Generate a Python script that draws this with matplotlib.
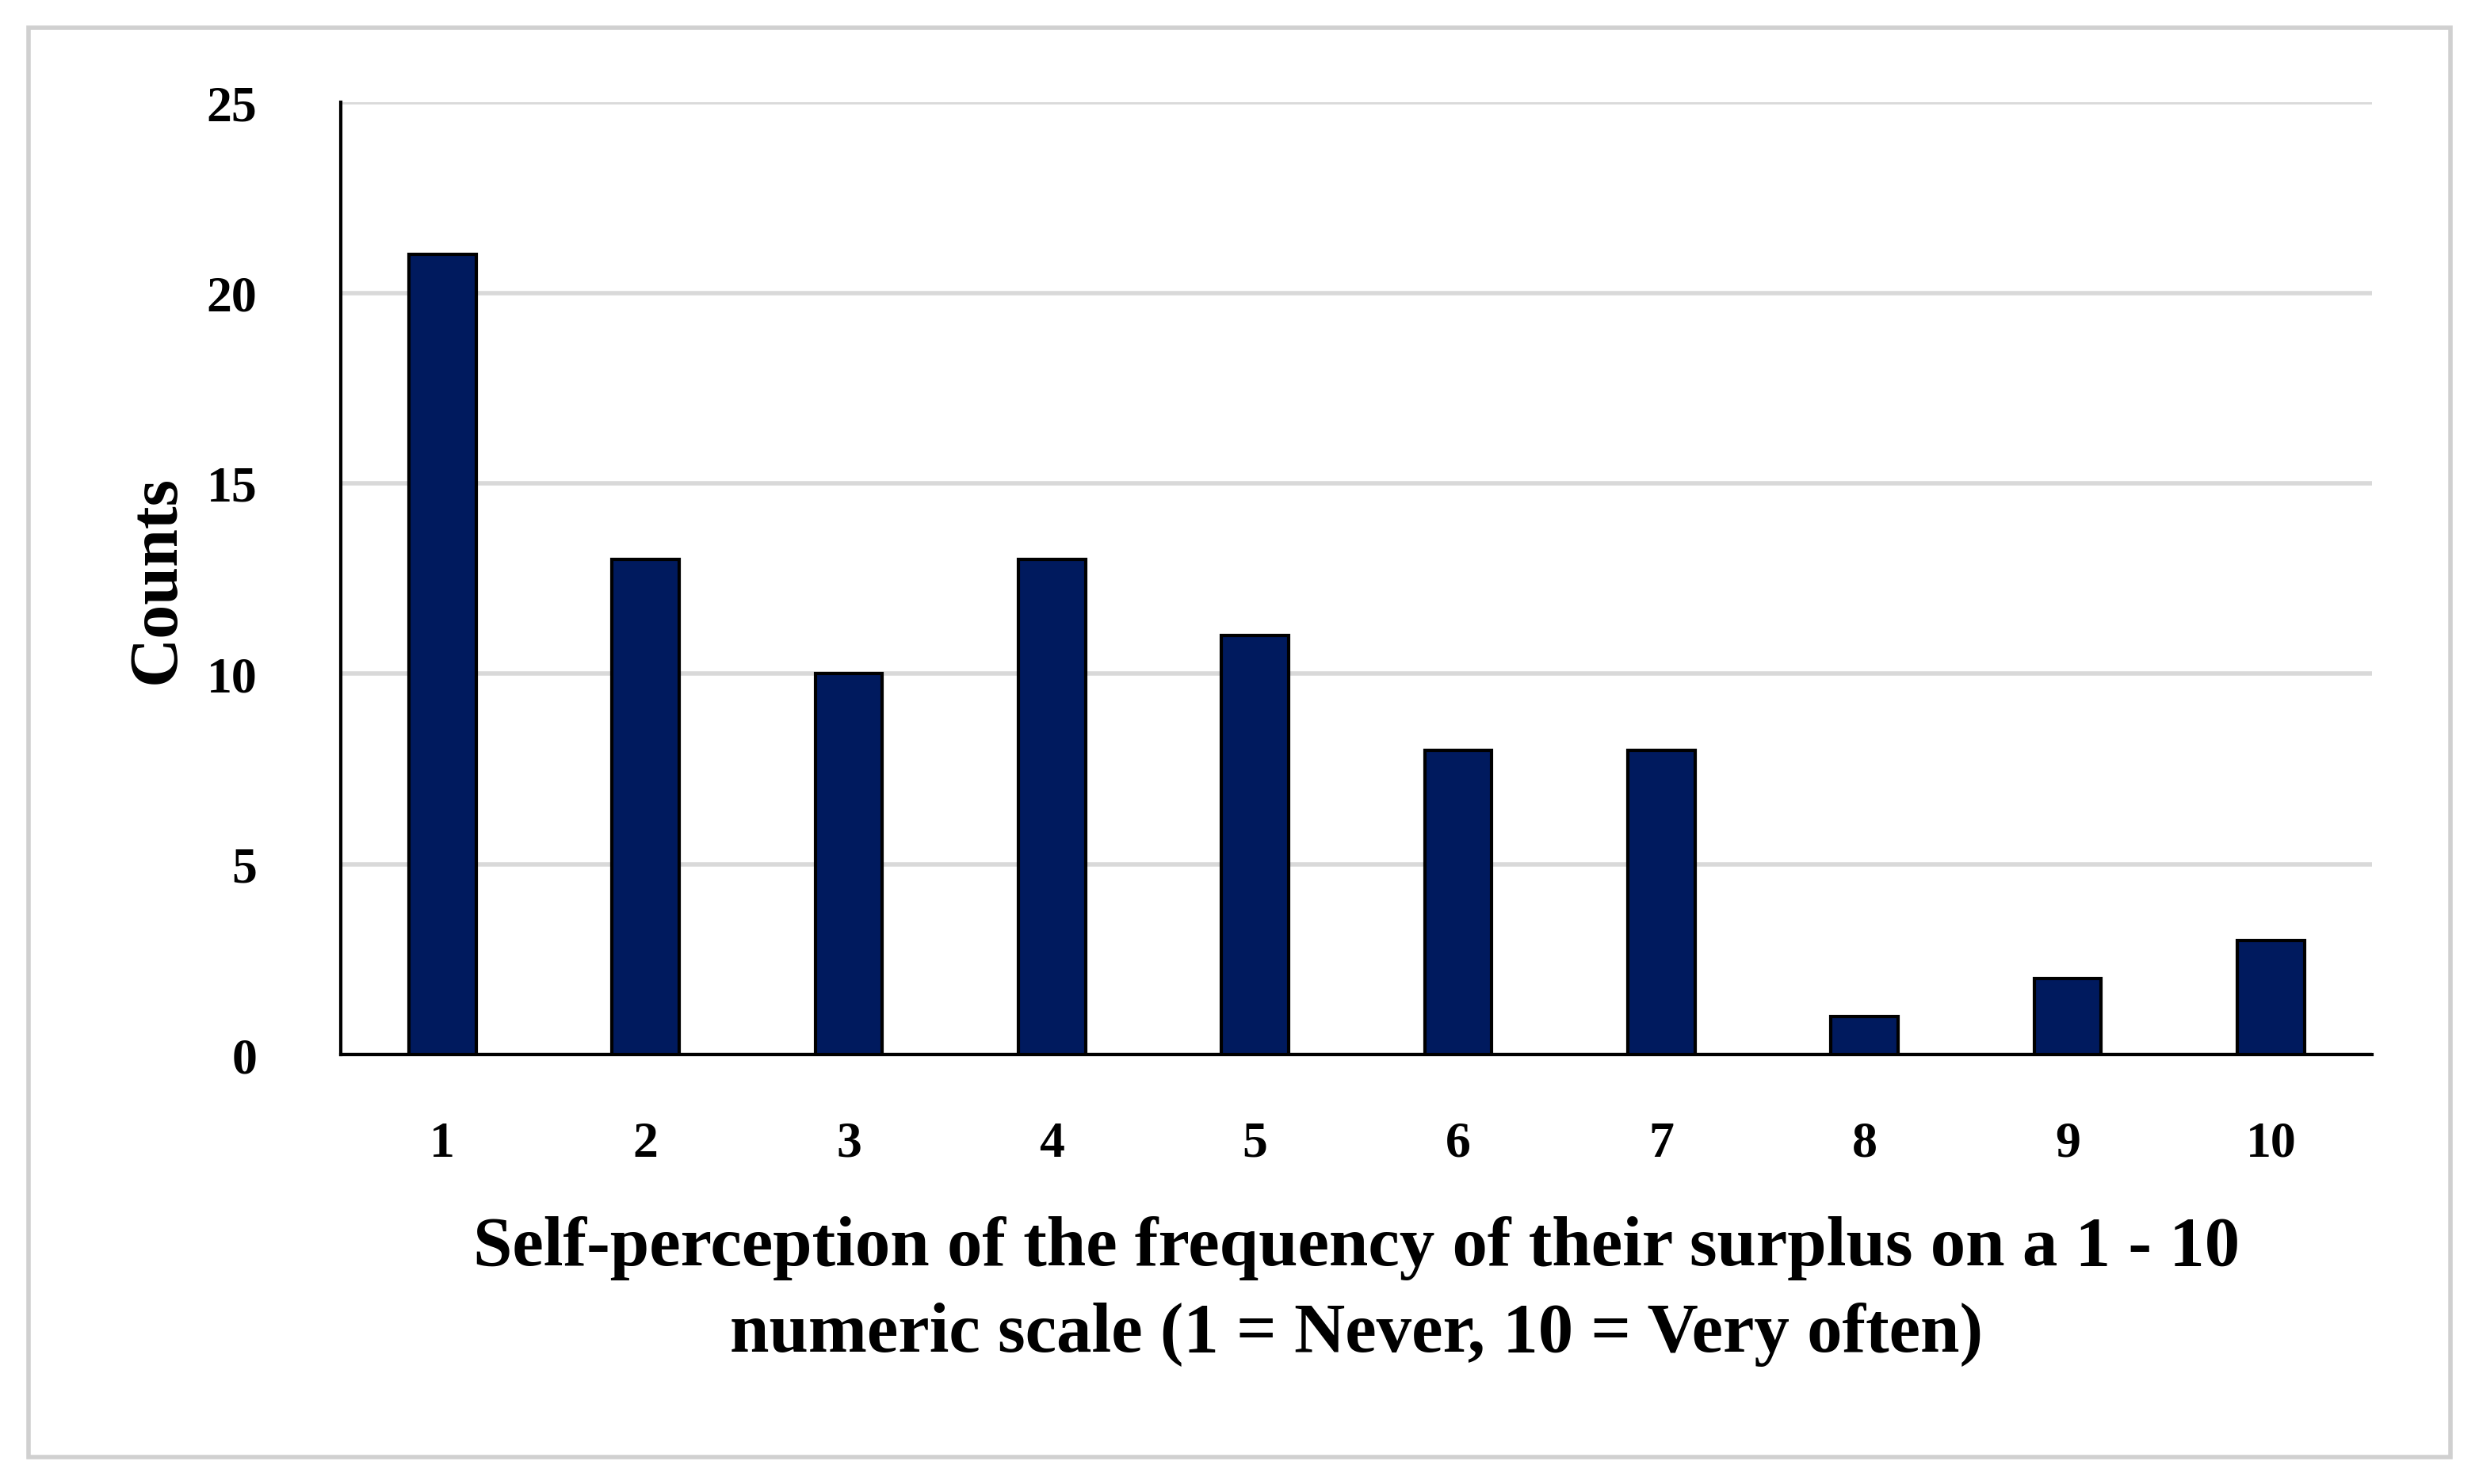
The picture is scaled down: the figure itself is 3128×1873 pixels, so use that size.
import matplotlib.pyplot as plt
from matplotlib.patches import Rectangle

categories = [str(i) for i in range(1, 11)]
counts = [21, 13, 10, 13, 11, 8, 8, 1, 2, 3]

plt.rcParams['font.family'] = ['Liberation Serif', 'DejaVu Serif']
plt.rcParams['font.weight'] = 'bold'

fig = plt.figure(figsize=(15.64, 9.37), dpi=200)
ax = fig.add_axes([0.1375, 0.289, 0.8195, 0.6416])

ax.bar(range(len(categories)), counts, width=0.33, color='#001A5E',
       edgecolor='black', linewidth=1.5, zorder=3)
ax.set_xlim(-0.5, len(categories) - 0.5)
ax.set_ylim(0, 25)
ax.set_yticks(range(0, 26, 5))
ax.set_xticks(range(len(categories)))
ax.set_xticklabels(categories)
ax.grid(axis='y', color='#D9D9D9', linewidth=2, zorder=0)
ax.tick_params(axis='both', length=0, labelsize=23)
ax.tick_params(axis='x', pad=30)
ax.tick_params(axis='y', pad=38)
for s in ['top', 'right']:
    ax.spines[s].set_visible(False)
ax.spines['left'].set_linewidth(1.5)
ax.spines['bottom'].set_linewidth(1.5)

ax.set_ylabel('Counts', fontsize=31, fontweight='bold', labelpad=8)
ax.set_xlabel('Self-perception of the frequency of their surplus on a 1 - 10\n'
              'numeric scale (1 = Never, 10 = Very often)',
              fontsize=32, fontweight='bold', labelpad=22, linespacing=1.45)

fig.patches.append(Rectangle((0.0115, 0.018), 0.977, 0.963, transform=fig.transFigure,
                             fill=False, edgecolor='#D0D0D0', linewidth=2))

fig.savefig('out.png', dpi=200)
